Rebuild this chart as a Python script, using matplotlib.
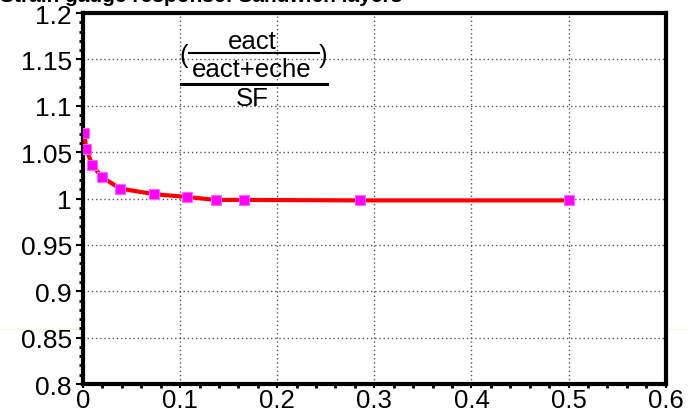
import matplotlib
matplotlib.use("Agg")
import matplotlib.pyplot as plt
from matplotlib.lines import Line2D
from matplotlib.ticker import MultipleLocator, FuncFormatter

plt.rcParams['font.family'] = ['Liberation Sans', 'DejaVu Sans']

# values
x_vals = [0.0013, 0.0034, 0.0096, 0.0193, 0.038, 0.0735, 0.107, 0.137, 0.166, 0.285, 0.5]
y_vals = [1.0712, 1.0532, 1.0360, 1.0233, 1.0108, 1.0047, 1.0017, 0.9985, 0.9985, 0.998, 0.998]

x_ticks = [0, 0.1, 0.2, 0.3, 0.4, 0.5, 0.6]
y_ticks = [0.8, 0.85, 0.9, 0.95, 1.0, 1.05, 1.1, 1.15, 1.2]


def fmt(v, pos):
    return ('%.2f' % v).rstrip('0').rstrip('.')


fig = plt.figure(figsize=(6.88, 4.14), dpi=100)
ax = fig.add_axes([0.1206, 0.070, 0.847, 0.896])

ax.plot(x_vals, y_vals, color='#ff0000', lw=3, zorder=3)
ax.plot(x_vals, y_vals, ls='none', marker='s', ms=7, color='#ff00ff',
        markeredgecolor='#ff66ff', markeredgewidth=0.8, zorder=4)

ax.set_xlim(0, 0.6)
ax.set_ylim(0.8, 1.2)
ax.set_xticks(x_ticks)
ax.set_yticks(y_ticks)
ax.xaxis.set_major_formatter(FuncFormatter(fmt))
ax.yaxis.set_major_formatter(FuncFormatter(fmt))
ax.xaxis.set_minor_locator(MultipleLocator(0.02))
ax.yaxis.set_minor_locator(MultipleLocator(0.01))

ax.tick_params(which='major', direction='out', length=5, width=1.5,
               top=False, right=False)
ax.tick_params(axis='y', which='major', labelsize=19, pad=3)
ax.tick_params(axis='x', which='major', labelsize=18.5, pad=0, length=3)
ax.tick_params(which='minor', direction='out', length=3, width=2,
               top=False, right=False)

for sp in ax.spines.values():
    sp.set_linewidth(3)

ax.grid(True, which='major', color='#555555', ls=(0, (1, 2)), lw=1)

# fraction label
fs = 18.5
ax.text(0.174, 1.170, 'eact', ha='center', va='center', fontsize=fs)
ax.plot([0.109, 0.243], [1.157, 1.157], color='black', lw=1.5, clip_on=False)
ax.text(0.104, 1.155, '(', ha='center', va='center', fontsize=fs)
ax.text(0.247, 1.155, ')', ha='center', va='center', fontsize=fs)
ax.text(0.174, 1.140, 'eact+eche', ha='center', va='center', fontsize=fs)
ax.plot([0.101, 0.2515], [1.123, 1.123], color='black', lw=2.2, clip_on=False)
ax.text(0.174, 1.108, 'SF', ha='center', va='center', fontsize=fs)

# title, cut off at the top edge in the reference
fig.text(0.0, 1 - 2 / 414, 'Strain gauge response: Sandwich layers', ha='left',
         va='baseline', fontsize=15, fontweight='bold')

# faint stray line in the reference image
fig.add_artist(Line2D([0, 1], [1 - 330 / 414] * 2, transform=fig.transFigure,
                      color='#fbf8dc', lw=0.8, zorder=0))

fig.savefig('out.png', dpi=100)
